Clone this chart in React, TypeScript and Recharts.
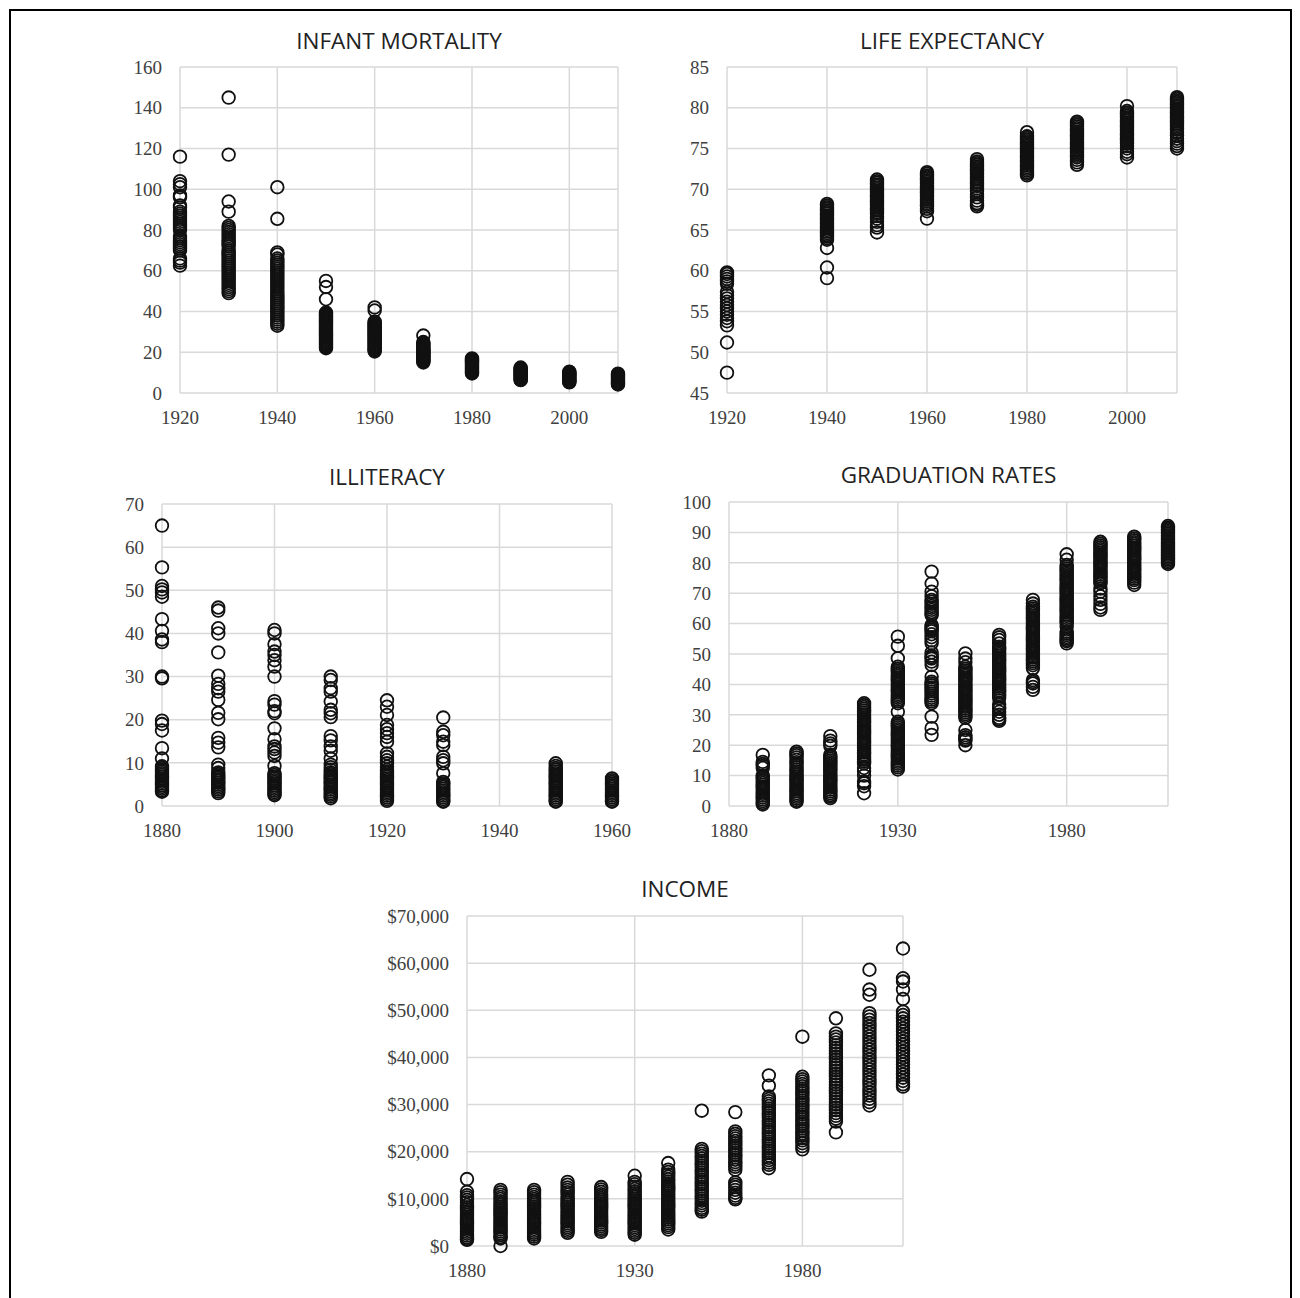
import { ScatterChart, Scatter, XAxis, YAxis, CartesianGrid } from 'recharts'

// INFANT MORTALITY
const infantYears = [1920, 1930, 1940, 1950, 1960, 1970, 1980, 1990, 2000, 2010]
const infantValues = [
    [116, 104, 102.5, 101, 97, 96, 92, 91, 89, 88, 87, 86, 85, 84, 83, 82, 81, 80, 77, 76, 75, 74, 73, 72, 71, 70, 66, 65, 64, 62.5],
    [145, 117, 94, 89, 82, 81, 80, 79, 78, 77, 76, 75, 74, 73, 72, 70, 69, 68, 67, 66, 65, 64, 63, 62, 61, 60, 59, 58, 57, 56, 55, 54, 53, 52, 51, 50, 49],
    [101, 85.5, 69, 68, 66, 65, 64, 63, 62, 61, 60, 59, 58, 57, 56, 55, 54, 53, 52, 51, 50, 49, 48, 47, 46, 45, 44, 43, 42, 41, 40, 39, 38, 37, 36, 35, 34, 33],
    [55, 52, 46, 39.5, 39, 38.5, 38, 37.5, 37, 36.5, 36, 35.5, 35, 34.5, 34, 33.5, 33, 32.5, 32, 31.5, 31, 30.5, 30, 29.5, 29, 28.5, 28, 27.5, 27, 26.5, 26, 25.5, 25, 24.5, 24, 23.5, 23, 22.5, 22],
    [42, 40.5, 35, 34.5, 34, 33.5, 33, 32.5, 32, 31.5, 31, 30.5, 30, 29.5, 29, 28.5, 28, 27.5, 27, 26.5, 26, 25.5, 25, 24.5, 24, 23.5, 23, 22.5, 22, 21.5, 21, 20.4],
    [28.2, 25, 24.5, 24, 23.5, 23, 22.5, 22, 21.5, 21, 20.5, 20, 19.5, 19, 18.5, 18, 17.5, 17, 16.5, 16, 15.5, 15],
    [17, 16.5, 16, 15.5, 15, 14.5, 14, 13.5, 13, 12.5, 12, 11.5, 11, 10.5, 10, 9.6],
    [12.5, 12, 11.5, 11, 10.5, 10, 9.5, 9, 8.5, 8, 7.5, 7, 6.5, 6.3],
    [10.5, 10, 9.5, 9, 8.5, 8, 7.5, 7, 6.5, 6, 5.5, 5.2],
    [9.5, 9, 8.5, 8, 7.5, 7, 6.5, 6, 5.5, 5, 4.5, 4.2],
]
const infantXTicks = [1920, 1940, 1960, 1980, 2000]
const infantYTicks = [0, 20, 40, 60, 80, 100, 120, 140, 160]

// LIFE EXPECTANCY
const lifeYears = [1920, 1940, 1950, 1960, 1970, 1980, 1990, 2000, 2010]
const lifeValues = [
    [59.8, 59.6, 59.3, 59, 58.7, 58.4, 57.4, 57, 56.6, 56.2, 55.8, 55.4, 55, 54.6, 54.2, 53.8, 53.3, 51.2, 47.5],
    [68.2, 68, 67.8, 67.6, 67.4, 67.2, 67, 66.8, 66.6, 66.4, 66.2, 66, 65.8, 65.6, 65.4, 65.2, 65, 64.8, 64.6, 64.4, 64.2, 64, 63.8, 62.8, 60.4, 59.1],
    [71.2, 71, 70.8, 70.6, 70.4, 70.2, 70, 69.8, 69.6, 69.4, 69.2, 69, 68.8, 68.6, 68.4, 68.2, 68, 67.8, 67.6, 67.4, 67.2, 67, 66.7, 66.4, 66, 65.6, 65.3, 64.7],
    [72.1, 71.9, 71.7, 71.5, 71.3, 71.1, 70.9, 70.7, 70.5, 70.3, 70.1, 69.9, 69.7, 69.5, 69.3, 69.1, 68.9, 68.7, 68.5, 68.3, 68.1, 67.9, 67.6, 67.3, 66.4],
    [73.7, 73.4, 73.2, 73, 72.8, 72.6, 72.4, 72.2, 72, 71.8, 71.6, 71.4, 71.2, 71, 70.8, 70.6, 70.4, 70.1, 69.8, 69.4, 69, 68.6, 68.3, 68.1, 67.9],
    [77, 76.5, 76.3, 76.1, 75.9, 75.7, 75.5, 75.3, 75.1, 74.9, 74.7, 74.5, 74.3, 74.1, 73.9, 73.7, 73.5, 73.3, 73.1, 72.9, 72.7, 72.5, 72.3, 72.1, 71.9, 71.7],
    [78.3, 78.1, 77.9, 77.7, 77.5, 77.3, 77.1, 76.9, 76.7, 76.5, 76.3, 76.1, 75.9, 75.7, 75.5, 75.3, 75.1, 74.9, 74.7, 74.5, 74.3, 74.1, 73.9, 73.6, 73.3, 73],
    [80.2, 79.6, 79.4, 79.2, 79, 78.8, 78.6, 78.4, 78.2, 78, 77.8, 77.6, 77.4, 77.2, 77, 76.8, 76.6, 76.4, 76.2, 76, 75.8, 75.6, 75.3, 75, 74.6, 74.3, 73.9],
    [81.3, 81.1, 80.9, 80.7, 80.5, 80.3, 80.1, 79.9, 79.7, 79.5, 79.3, 79.1, 78.9, 78.7, 78.5, 78.3, 78.1, 77.9, 77.7, 77.5, 77.3, 77, 76.6, 76.2, 75.9, 75.6, 75.3, 75],
]
const lifeXTicks = [1920, 1940, 1960, 1980, 2000]
const lifeYTicks = [45, 50, 55, 60, 65, 70, 75, 80, 85]

// ILLITERACY
const illitYears = [1880, 1890, 1900, 1910, 1920, 1930, 1950, 1960]
const illitValues = [
    [65, 55.3, 51, 50.2, 49.5, 48.5, 43.3, 40.6, 38.6, 38, 30, 29.6, 19.8, 19, 17.5, 13.4, 11, 9.2, 8.8, 8.4, 8, 7.6, 7.2, 6.8, 6.4, 6, 5.6, 5.2, 4.8, 4.4, 4, 3.6, 3.3],
    [46, 45.3, 41.2, 40, 35.6, 30.2, 28.3, 27.3, 26.5, 24.6, 21.6, 20.1, 15.8, 14.7, 13.6, 9.6, 8.8, 7.8, 7.4, 7, 6.6, 6.2, 5.8, 5.4, 5, 4.6, 4.2, 3.8, 3.4, 3],
    [40.8, 40, 37.5, 35.8, 35, 33.8, 32.3, 30, 24.3, 23.5, 22, 21.5, 18, 15.5, 13.8, 13.2, 12.4, 11.6, 9.3, 7.6, 7.2, 6.8, 6.4, 6, 5.6, 5.2, 4.8, 4.4, 4, 3.6, 3.2, 2.8, 2.5],
    [30, 29.2, 27.3, 26.5, 24.2, 22.3, 21.5, 20.6, 16.2, 15.2, 13.8, 12.8, 11, 9.6, 9, 8.4, 7.8, 7.4, 7, 6.6, 6.2, 5.8, 5.4, 5, 4.6, 4.2, 3.8, 3.4, 3, 2.6, 2.2, 1.8],
    [24.5, 23, 21.1, 18.8, 17.8, 16.9, 16, 14.9, 12.2, 11.4, 10.6, 9.9, 9.1, 8.4, 8, 7.6, 7.2, 6.8, 6.4, 6, 5.6, 5.2, 4.8, 4.4, 4, 3.6, 3.2, 2.8, 2.4, 2, 1.6, 1.2],
    [20.5, 17.2, 16.4, 14.9, 14.1, 11.4, 10.6, 9.9, 7.6, 5.6, 5.2, 4.8, 4.4, 4, 3.6, 3.2, 2.8, 2.4, 2, 1.6, 1.2, 1],
    [9.9, 9.3, 8.8, 8.4, 8, 7.6, 7.2, 6.8, 6.4, 6, 5.6, 5.2, 4.8, 4.4, 4, 3.6, 3.2, 2.8, 2.4, 2, 1.6, 1.2, 1],
    [6.4, 6, 5.6, 5.2, 4.8, 4.4, 4, 3.6, 3.2, 2.8, 2.4, 2, 1.6, 1.2, 1],
]
const illitXTicks = [1880, 1900, 1920, 1940, 1960]
const illitYTicks = [0, 10, 20, 30, 40, 50, 60, 70]

// GRADUATION RATES
const gradYears = [1890, 1900, 1910, 1920, 1930, 1940, 1950, 1960, 1970, 1980, 1990, 2000, 2010]
const gradValues = [
    [16.8, 14.5, 13.8, 13.2, 12.5, 10, 9.4, 8.8, 8.2, 7.6, 7, 6.4, 5.8, 5.2, 4.6, 4, 3.4, 2.8, 2.2, 1.6, 1, 0.5],
    [17.9, 17.3, 16.7, 16, 15.2, 14.4, 13.6, 12.8, 12, 11.4, 10.8, 10.2, 9.6, 9, 8.4, 7.8, 7.2, 6.6, 6, 5.4, 4.8, 4.2, 3.6, 3, 2.4, 1.8, 1.4],
    [23, 21.5, 20.6, 19.8, 16.8, 16.2, 15.6, 15, 14.4, 13.8, 13.2, 12.6, 12, 11.4, 10.8, 10.2, 9.6, 9, 8.4, 7.8, 7.2, 6.6, 6, 5.4, 4.8, 4.2, 3.6, 3.1, 2.6],
    [33.8, 33.2, 32.6, 32, 31.4, 30.8, 30.2, 29.6, 29, 28.4, 27.8, 27.2, 26.6, 26, 25.4, 24.8, 24.2, 23.6, 23, 22.4, 21.8, 21.2, 20.6, 20, 19.4, 18.8, 18.2, 17.6, 17, 16.4, 15.8, 15.2, 14.6, 14, 12.5, 11.5, 10, 8, 7.5, 6.5, 4.2],
    [55.7, 52.7, 48.6, 45.8, 45.2, 44.6, 44, 43.4, 42.8, 42.2, 41.6, 41, 40.4, 39.8, 39.2, 38.6, 38, 37.4, 36.8, 36.2, 35.6, 35, 34.4, 33.8, 31, 27.7, 27.1, 26.5, 25.9, 25.3, 24.7, 24.1, 23.5, 22.9, 22.3, 21.7, 21.1, 20.5, 19.9, 19.3, 18.7, 18.1, 17.5, 16.9, 16.3, 15.7, 15.1, 14.5, 13.9, 13.3, 12.7, 12],
    [77.1, 73.2, 70.5, 69, 67.8, 67.2, 66.5, 65.8, 65.2, 64.5, 63.8, 63.2, 62.8, 59.5, 59, 58.5, 58, 57.5, 56.5, 55.5, 54.5, 53.5, 50.5, 49.5, 49, 48.5, 47.5, 46.4, 42.5, 40.9, 40.3, 39.7, 39, 38.4, 37.7, 37, 36.3, 35.6, 35, 34.4, 33.8, 29.4, 25.6, 23.4],
    [50.2, 48.5, 47.3, 45.8, 45.2, 44.6, 44, 43.4, 42.8, 42.2, 41.6, 41, 40.4, 39.8, 39.2, 38.6, 38, 37.4, 36.8, 36.2, 35.6, 35, 34.4, 33.8, 33.2, 32.6, 32, 31.4, 30.8, 30.2, 29.6, 29, 25, 23.3, 22.6, 22, 21.5, 20],
    [56.3, 55.5, 54.6, 53.5, 52.4, 51.8, 51.2, 50.6, 50, 49.4, 48.8, 48.2, 47.6, 47, 46.4, 45.8, 45.2, 44.6, 44, 43.4, 42.8, 42.2, 41.6, 41, 40.4, 39.8, 39.2, 38.6, 38, 37.4, 36.8, 36.2, 35.5, 33.5, 32.5, 32, 31, 30, 29, 28.5, 28],
    [67.8, 66.6, 65.6, 65, 64.4, 63.8, 63.2, 62.6, 62, 61.4, 60.8, 60.2, 59.6, 59, 58.4, 57.8, 57.2, 56.6, 56, 55.4, 54.8, 54.2, 53.6, 53, 52.4, 51.8, 51.2, 50.6, 50, 49.4, 48.8, 48.2, 47.6, 47, 46.3, 45.3, 41.4, 40.8, 40.3, 39.2, 38.2],
    [82.8, 81, 79.3, 78.7, 78.1, 77.5, 76.9, 76.3, 75.7, 75.1, 74.5, 73.9, 73.3, 72.7, 72.1, 71.5, 70.9, 70.3, 69.7, 69.1, 68.5, 67.9, 67.3, 66.7, 66.1, 65.5, 64.9, 64.3, 63.7, 63.1, 62.5, 61.9, 61.3, 60.7, 60.1, 59, 57.3, 56.7, 56.2, 55.6, 55.1, 54.6, 54.2, 53.5],
    [86.9, 86.3, 85.7, 85.1, 84.5, 83.9, 83.3, 82.7, 82.1, 81.5, 80.9, 80.3, 79.7, 79.1, 78.5, 77.9, 77.3, 76.7, 76.1, 75.5, 74.9, 74.3, 73.7, 73.2, 71.5, 70.5, 69, 67.8, 66.5, 65.3, 64.5],
    [88.6, 88, 87.4, 86.8, 86.2, 85.6, 85, 84.4, 83.8, 83.2, 82.6, 82, 81.4, 80.8, 80.2, 79.6, 79, 78.4, 77.8, 77.2, 76.6, 76, 75.4, 74.8, 74.3, 73.5, 72.7],
    [92.1, 91.6, 91.1, 90.6, 90.1, 89.6, 89.1, 88.6, 88.1, 87.6, 87.1, 86.6, 86.1, 85.6, 85.1, 84.6, 84.1, 83.6, 83.1, 82.6, 82.1, 81.6, 81.1, 80.6, 80.1, 79.6],
]
const gradXTicks = [1880, 1930, 1980]
const gradYTicks = [0, 10, 20, 30, 40, 50, 60, 70, 80, 90, 100]

// INCOME
const incomeYears = [1880, 1890, 1900, 1910, 1920, 1930, 1940, 1950, 1960, 1970, 1980, 1990, 2000, 2010]
const incomeValues = [
    [14200, 11500, 10800, 10300, 9800, 9300, 8700, 8200, 7800, 7400, 7000, 6600, 6200, 5800, 5400, 5000, 4600, 4200, 3800, 3400, 3000, 2600, 2200, 1800, 1500, 1300],
    [11900, 11400, 10900, 10400, 10000, 9500, 9100, 8700, 8300, 7900, 7500, 7100, 6700, 6300, 5900, 5500, 5100, 4700, 4300, 3900, 3500, 3100, 2700, 2300, 1900, 1600, 0],
    [11900, 11400, 10900, 10400, 10000, 9600, 9200, 8800, 8400, 8000, 7600, 7200, 6800, 6400, 6000, 5600, 5200, 4800, 4400, 4000, 3600, 3200, 2800, 2400, 2000, 1600],
    [13600, 13000, 12400, 11900, 11400, 10900, 10400, 10000, 9600, 9200, 8800, 8400, 8000, 7600, 7200, 6800, 6400, 6000, 5600, 5200, 4800, 4400, 4000, 3600, 3200, 2800],
    [12500, 12000, 11500, 11000, 10600, 10200, 9800, 9400, 9000, 8600, 8200, 7800, 7400, 7000, 6600, 6200, 5800, 5400, 5000, 4600, 4200, 3800, 3400, 3000],
    [14900, 13600, 13100, 12600, 12100, 11600, 11200, 10800, 10400, 10000, 9600, 9200, 8800, 8400, 8000, 7600, 7200, 6800, 6400, 6000, 5600, 5200, 4800, 4400, 4000, 3600, 3200, 2800, 2400],
    [17600, 16200, 15700, 15200, 14700, 14200, 13700, 13200, 12800, 12400, 12000, 11600, 11200, 10800, 10400, 10000, 9600, 9200, 8800, 8400, 8000, 7600, 7200, 6800, 6400, 6000, 5600, 5200, 4800, 4400, 4000, 3500],
    [28700, 20600, 20100, 19600, 19100, 18600, 18100, 17600, 17100, 16600, 16100, 15600, 15100, 14600, 14100, 13600, 13100, 12600, 12100, 11600, 11100, 10600, 10100, 9600, 9100, 8600, 8100, 7700, 7300],
    [28400, 24300, 23800, 23300, 22800, 22300, 21800, 21300, 20800, 20300, 19800, 19300, 18800, 18300, 17800, 17300, 16800, 16200, 13500, 13000, 12500, 11900, 11300, 10700, 10200, 9900],
    [36200, 34000, 31700, 31200, 30700, 30200, 29700, 29200, 28700, 28200, 27700, 27200, 26700, 26200, 25700, 25200, 24700, 24200, 23700, 23200, 22700, 22200, 21700, 21200, 20700, 20200, 19700, 19200, 18700, 18200, 17700, 17200, 16500],
    [44400, 35900, 35400, 34900, 34400, 33900, 33400, 32900, 32400, 31900, 31400, 30900, 30400, 29900, 29400, 28900, 28400, 27900, 27400, 26900, 26400, 25900, 25400, 24900, 24400, 23900, 23400, 22900, 22400, 21800, 21200, 20500],
    [48300, 45100, 44400, 43800, 43200, 42600, 42000, 41400, 40800, 40200, 39600, 39000, 38400, 37800, 37200, 36600, 36000, 35400, 34800, 34200, 33600, 33000, 32400, 31800, 31200, 30600, 30000, 29400, 28800, 28200, 27600, 27000, 26400, 24100],
    [58600, 54400, 53300, 49400, 48700, 48000, 47300, 46600, 45900, 45200, 44500, 43800, 43100, 42400, 41700, 41000, 40300, 39600, 38900, 38200, 37500, 36800, 36100, 35400, 34700, 34000, 33300, 32600, 31900, 31200, 30500, 29800],
    [63100, 56800, 56100, 54400, 52400, 49700, 49000, 48300, 47600, 46900, 46200, 45500, 44800, 44100, 43400, 42700, 42000, 41300, 40600, 39900, 39200, 38500, 37800, 37100, 36400, 35700, 35000, 34300, 33800],
]
const incomeXTicks = [1880, 1930, 1980]
const incomeYTicks = [0, 10000, 20000, 30000, 40000, 50000, 60000, 70000]

const toPoints = (years: number[], groups: number[][]) =>
    years.flatMap((year, i) => groups[i].map((v) => ({ x: year, y: v })))

const tickStyle = { fill: '#404040', fontSize: 19, fontFamily: '"Liberation Serif", serif' }

const OpenCircle = (props: any) => (
    <circle cx={props.cx} cy={props.cy} r={6.3} fill='none' stroke='#111' strokeWidth={1.8} />
)

interface PanelProps {
    title: string
    points: { x: number; y: number }[]
    left: number
    top: number
    width: number
    height: number
    yAxisWidth: number
    marginTop: number
    marginRight: number
    marginBottom: number
    titleTop: number
    xDomain: [number, number]
    xTicks: number[]
    yDomain: [number, number]
    yTicks: number[]
    yFormat?: (v: number) => string
}

const Panel = ({
    title, points, left, top, width, height, yAxisWidth, marginTop, marginRight, marginBottom,
    titleTop, xDomain, xTicks, yDomain, yTicks, yFormat,
}: PanelProps) => {
    const plotLeft = left + yAxisWidth
    const plotRight = left + width - marginRight
    return (
        <>
            <div
                style={{
                    position: 'absolute',
                    left: plotLeft - 100,
                    width: plotRight - plotLeft + 200,
                    top: titleTop,
                    textAlign: 'center',
                    fontFamily: '"Open Sans", sans-serif',
                    fontSize: 22.5,
                    lineHeight: '30px',
                    color: '#222',
                }}
            >
                {title}
            </div>
            <div style={{ position: 'absolute', left, top }}>
                <ScatterChart
                    width={width}
                    height={height}
                    margin={{ top: marginTop, right: marginRight, bottom: marginBottom, left: 0 }}
                >
                    <CartesianGrid stroke='#d9d9d9' strokeWidth={1.5} />
                    <XAxis
                        type='number'
                        dataKey='x'
                        domain={xDomain}
                        ticks={xTicks}
                        interval={0}
                        axisLine={false}
                        tickLine={false}
                        tickSize={0}
                        tickMargin={18}
                        height={30}
                        tick={tickStyle}
                    />
                    <YAxis
                        type='number'
                        dataKey='y'
                        domain={yDomain}
                        ticks={yTicks}
                        interval={0}
                        axisLine={false}
                        tickLine={false}
                        tickSize={0}
                        tickMargin={18}
                        width={yAxisWidth}
                        tick={tickStyle}
                        tickFormatter={yFormat}
                    />
                    <Scatter data={points} shape={OpenCircle} isAnimationActive={false} />
                </ScatterChart>
            </div>
        </>
    )
}

export default function App() {
    return (
        <div
            style={{
                position: 'absolute',
                left: 0,
                top: 0,
                width: 1300,
                height: 1298,
                overflow: 'hidden',
                background: '#fff',
            }}
        >
            <div
                style={{
                    position: 'absolute',
                    left: 9,
                    top: 9,
                    width: 1279,
                    height: 1400,
                    borderTop: '2px solid #000',
                    borderLeft: '2px solid #000',
                    borderRight: '2px solid #000',
                }}
            />
            <Panel
                title='INFANT MORTALITY'
                points={toPoints(infantYears, infantValues)}
                left={100} top={55} width={540} height={385}
                yAxisWidth={80} marginTop={12} marginRight={22} marginBottom={17}
                titleTop={26}
                xDomain={[1920, 2010]} xTicks={infantXTicks}
                yDomain={[0, 160]} yTicks={infantYTicks}
            />
            <Panel
                title='LIFE EXPECTANCY'
                points={toPoints(lifeYears, lifeValues)}
                left={640} top={55} width={560} height={385}
                yAxisWidth={87} marginTop={12} marginRight={23} marginBottom={17}
                titleTop={26}
                xDomain={[1920, 2010]} xTicks={lifeXTicks}
                yDomain={[45, 85]} yTicks={lifeYTicks}
            />
            <Panel
                title='ILLITERACY'
                points={toPoints(illitYears, illitValues)}
                left={60} top={490} width={580} height={360}
                yAxisWidth={102} marginTop={14} marginRight={28} marginBottom={14}
                titleTop={462}
                xDomain={[1880, 1960]} xTicks={illitXTicks}
                yDomain={[0, 70]} yTicks={illitYTicks}
            />
            <Panel
                title='GRADUATION RATES'
                points={toPoints(gradYears, gradValues)}
                left={640} top={490} width={560} height={360}
                yAxisWidth={89} marginTop={12} marginRight={32} marginBottom={14}
                titleTop={460}
                xDomain={[1880, 2010]} xTicks={gradXTicks}
                yDomain={[0, 100]} yTicks={gradYTicks}
            />
            <Panel
                title='INCOME'
                points={toPoints(incomeYears, incomeValues)}
                left={340} top={905} width={600} height={380}
                yAxisWidth={127} marginTop={11} marginRight={37} marginBottom={9}
                titleTop={874}
                xDomain={[1880, 2010]} xTicks={incomeXTicks}
                yDomain={[0, 70000]} yTicks={incomeYTicks}
                yFormat={(v: number) => '$' + v.toLocaleString('en-US')}
            />
        </div>
    )
}
